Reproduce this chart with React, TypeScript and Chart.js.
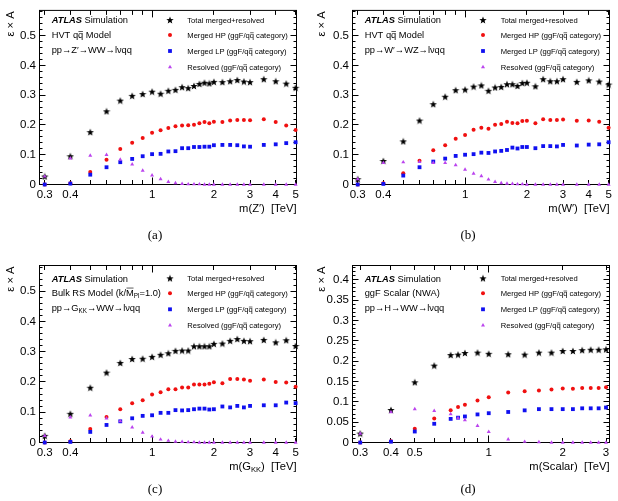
import { useEffect, useRef } from "react";
import { Chart, registerables } from "chart.js";

Chart.register(...registerables);

// Resonance mass points [TeV]
const massVV = [0.3, 0.4, 0.5, 0.6, 0.7, 0.8, 0.9, 1.0, 1.1, 1.2, 1.3, 1.4, 1.5, 1.6, 1.7, 1.8, 1.9, 2.0, 2.2, 2.4, 2.6, 2.8, 3.0, 3.5, 4.0, 4.5, 5.0];
const massScalar = [0.3, 0.4, 0.5, 0.6, 0.7, 0.75, 0.8, 0.9, 1.0, 1.2, 1.4, 1.6, 1.8, 2.0, 2.2, 2.4, 2.6, 2.8, 3.0];

// (a) HVT Z' -> WW
const zTotal = [0.027, 0.095, 0.176, 0.246, 0.282, 0.298, 0.304, 0.312, 0.305, 0.315, 0.318, 0.327, 0.324, 0.331, 0.338, 0.342, 0.340, 0.345, 0.344, 0.347, 0.351, 0.346, 0.344, 0.354, 0.347, 0.339, 0.325];
const zHP = [0.000, 0.004, 0.042, 0.083, 0.119, 0.140, 0.156, 0.174, 0.182, 0.190, 0.196, 0.198, 0.199, 0.201, 0.206, 0.210, 0.206, 0.211, 0.210, 0.215, 0.217, 0.217, 0.216, 0.219, 0.210, 0.198, 0.183];
const zLP = [0.000, 0.003, 0.033, 0.058, 0.075, 0.086, 0.095, 0.102, 0.103, 0.111, 0.112, 0.122, 0.122, 0.126, 0.126, 0.127, 0.127, 0.132, 0.133, 0.133, 0.132, 0.128, 0.127, 0.133, 0.135, 0.139, 0.142];
const zRes = [0.027, 0.088, 0.097, 0.100, 0.084, 0.068, 0.047, 0.031, 0.018, 0.009, 0.005, 0.002, 0.001, 0.001, 0.001, 0.000, 0.000, 0.000, 0.000, 0.000, 0.000, 0.000, 0.000, 0.000, 0.000, 0.000, 0.000];

// (b) HVT W' -> WZ
const wTotal = [0.018, 0.079, 0.145, 0.215, 0.270, 0.295, 0.317, 0.319, 0.329, 0.333, 0.315, 0.326, 0.328, 0.337, 0.337, 0.331, 0.341, 0.342, 0.330, 0.354, 0.347, 0.347, 0.354, 0.345, 0.350, 0.346, 0.336];
const wHP = [0.000, 0.004, 0.038, 0.080, 0.115, 0.132, 0.154, 0.166, 0.184, 0.191, 0.187, 0.201, 0.203, 0.211, 0.207, 0.206, 0.213, 0.214, 0.206, 0.219, 0.217, 0.217, 0.218, 0.214, 0.215, 0.211, 0.191];
const wLP = [0.000, 0.002, 0.030, 0.058, 0.077, 0.087, 0.096, 0.100, 0.102, 0.107, 0.106, 0.111, 0.113, 0.116, 0.124, 0.121, 0.126, 0.126, 0.122, 0.129, 0.129, 0.128, 0.133, 0.131, 0.134, 0.135, 0.142];
const wRes = [0.018, 0.073, 0.075, 0.076, 0.073, 0.073, 0.065, 0.050, 0.037, 0.028, 0.017, 0.009, 0.005, 0.003, 0.002, 0.001, 0.001, 0.000, 0.000, 0.000, 0.000, 0.000, 0.000, 0.000, 0.000, 0.000, 0.000];

// (c) Bulk RS G_KK -> WW
const gTotal = [0.022, 0.095, 0.181, 0.231, 0.263, 0.276, 0.277, 0.283, 0.290, 0.295, 0.303, 0.304, 0.304, 0.318, 0.318, 0.318, 0.318, 0.326, 0.327, 0.336, 0.342, 0.336, 0.335, 0.339, 0.331, 0.338, 0.319];
const gHP = [0.000, 0.004, 0.045, 0.084, 0.110, 0.130, 0.140, 0.159, 0.166, 0.176, 0.176, 0.182, 0.182, 0.192, 0.192, 0.192, 0.194, 0.199, 0.196, 0.210, 0.210, 0.208, 0.204, 0.208, 0.200, 0.198, 0.184];
const gLP = [0.000, 0.002, 0.035, 0.058, 0.070, 0.080, 0.088, 0.090, 0.098, 0.098, 0.107, 0.106, 0.107, 0.110, 0.112, 0.112, 0.109, 0.110, 0.119, 0.116, 0.121, 0.116, 0.121, 0.123, 0.123, 0.132, 0.130];
const gRes = [0.022, 0.083, 0.090, 0.080, 0.071, 0.050, 0.033, 0.020, 0.010, 0.006, 0.003, 0.002, 0.001, 0.001, 0.000, 0.000, 0.000, 0.000, 0.000, 0.000, 0.000, 0.000, 0.000, 0.000, 0.000, 0.000, 0.000];

// (d) ggF scalar H -> WW (NWA)
const sTotal = [0.022, 0.080, 0.148, 0.189, 0.215, 0.216, 0.220, 0.221, 0.218, 0.217, 0.216, 0.221, 0.221, 0.225, 0.225, 0.227, 0.228, 0.228, 0.229];
const sHP = [0.000, 0.003, 0.034, 0.059, 0.079, 0.087, 0.093, 0.103, 0.111, 0.123, 0.126, 0.128, 0.130, 0.133, 0.132, 0.134, 0.134, 0.134, 0.136];
const sLP = [0.000, 0.002, 0.027, 0.046, 0.058, 0.061, 0.064, 0.069, 0.072, 0.075, 0.079, 0.082, 0.082, 0.082, 0.082, 0.084, 0.084, 0.084, 0.086];
const sRes = [0.022, 0.075, 0.082, 0.078, 0.070, 0.060, 0.055, 0.041, 0.026, 0.008, 0.002, 0.001, 0.000, 0.000, 0.000, 0.000, 0.000, 0.000, 0.000];

// Axis ticks
const xTicksVV = [0.3, 0.4, 0.5, 0.6, 0.7, 0.8, 0.9, 1, 2, 3, 4, 5];
const xLabelsVV = [0.3, 0.4, 1, 2, 3, 4, 5];
const xTicksScalar = [0.3, 0.4, 0.5, 0.6, 0.7, 0.8, 0.9, 1, 2, 3];
const xLabelsScalar = [0.3, 0.4, 0.5, 1, 2, 3];

const FONT = '"Liberation Sans", Arial, Helvetica, sans-serif';
const SERIF = '"Liberation Serif", "DejaVu Serif", serif';
const RED = "#f01010";
const BLUE = "#1010f0";
const VIOLET = "#bb44ee";

type Seg = { t: string; b?: boolean; i?: boolean; bar?: "lo" | "hi"; sub?: boolean };

const legendRows: Seg[][] = [
  [{ t: "Total merged+resolved" }],
  [{ t: "Merged HP (ggF/q" }, { t: "q", bar: "lo" }, { t: " category)" }],
  [{ t: "Merged LP (ggF/q" }, { t: "q", bar: "lo" }, { t: " category)" }],
  [{ t: "Resolved (ggF/q" }, { t: "q", bar: "lo" }, { t: " category)" }],
];

const atlasLine: Seg[] = [{ t: "ATLAS", b: true, i: true }, { t: " Simulation" }];

type Panel = {
  origin: [number, number];
  size: [number, number];
  area: { l: number; t: number; r: number; b: number };
  mass: number[];
  total: number[];
  hp: number[];
  lp: number[];
  res: number[];
  xMin: number;
  xMax: number;
  yMax: number;
  yStep: number;
  yMinor: number;
  xTicks: number[];
  xLabels: number[];
  info: Seg[][];
  xTitle: Seg[];
  caption: string;
  infoX: number;
  infoY: number[];
  legMarkX: number;
  legTextX: number;
  legY: number[];
  xTitleY: number;
  yTitleX: number;
  captionX: number;
  captionY: number;
};

const panels: Panel[] = [
  {
    origin: [0, 0], size: [309, 250],
    area: { l: 39.5, t: 7.5, r: 12.5, b: 65.5 },
    mass: massVV, total: zTotal, hp: zHP, lp: zLP, res: zRes,
    xMin: 0.283, xMax: 5.05, yMax: 0.585, yStep: 0.1, yMinor: 0.02,
    xTicks: xTicksVV, xLabels: xLabelsVV,
    info: [atlasLine, [{ t: "HVT q" }, { t: "q", bar: "lo" }, { t: " Model" }], [{ t: "pp→Z′→WW→lνqq" }]],
    xTitle: [{ t: "m(Z′)  [TeV]" }],
    caption: "(a)",
    infoX: 51.7, infoY: [20, 34.3, 49.3],
    legMarkX: 170, legTextX: 187.3, legY: [20, 35, 51, 67],
    xTitleY: 208.3, yTitleX: 10, captionX: 155, captionY: 236,
  },
  {
    origin: [309, 0], size: [309, 250],
    area: { l: 43.5, t: 7.5, r: 8.5, b: 65.5 },
    mass: massVV, total: wTotal, hp: wHP, lp: wLP, res: wRes,
    xMin: 0.283, xMax: 5.05, yMax: 0.585, yStep: 0.1, yMinor: 0.02,
    xTicks: xTicksVV, xLabels: xLabelsVV,
    info: [atlasLine, [{ t: "HVT q" }, { t: "q", bar: "lo" }, { t: " Model" }], [{ t: "pp→W′→WZ→lνqq" }]],
    xTitle: [{ t: "m(W′)  [TeV]" }],
    caption: "(b)",
    infoX: 55.7, infoY: [20, 34.3, 49.3],
    legMarkX: 174, legTextX: 191.7, legY: [20, 35, 51, 67],
    xTitleY: 208.3, yTitleX: 11.7, captionX: 159, captionY: 236,
  },
  {
    origin: [0, 250], size: [309, 251],
    area: { l: 39.5, t: 15.5, r: 12.5, b: 58.5 },
    mass: massVV, total: gTotal, hp: gHP, lp: gLP, res: gRes,
    xMin: 0.283, xMax: 5.05, yMax: 0.585, yStep: 0.1, yMinor: 0.02,
    xTicks: xTicksVV, xLabels: xLabelsVV,
    info: [
      atlasLine,
      [{ t: "Bulk RS Model (k/" }, { t: "M", bar: "hi" }, { t: "Pl", sub: true }, { t: "=1.0)" }],
      [{ t: "pp→G" }, { t: "KK", sub: true }, { t: "→WW→lνqq" }],
    ],
    xTitle: [{ t: "m(G" }, { t: "KK", sub: true }, { t: ")  [TeV]" }],
    caption: "(c)",
    infoX: 51.7, infoY: [28.3, 42.7, 57.3],
    legMarkX: 170, legTextX: 187.3, legY: [28.3, 43.3, 59.3, 75.3],
    xTitleY: 216, yTitleX: 10, captionX: 155, captionY: 239.3,
  },
  {
    origin: [309, 250], size: [309, 251],
    area: { l: 43.5, t: 15.5, r: 8.5, b: 58.5 },
    mass: massScalar, total: sTotal, hp: sHP, lp: sLP, res: sRes,
    xMin: 0.279, xMax: 3.1, yMax: 0.435, yStep: 0.05, yMinor: 0.01,
    xTicks: xTicksScalar, xLabels: xLabelsScalar,
    info: [atlasLine, [{ t: "ggF Scalar (NWA)" }], [{ t: "pp→H→WW→lνqq" }]],
    xTitle: [{ t: "m(Scalar)  [TeV]" }],
    caption: "(d)",
    infoX: 55.7, infoY: [28.3, 42.7, 57.3],
    legMarkX: 174, legTextX: 191.7, legY: [28.3, 43.3, 59.3, 75.3],
    xTitleY: 216, yTitleX: 11.7, captionX: 159, captionY: 239.3,
  },
];

function segFont(s: Seg, size: number) {
  const sz = s.sub ? size * 0.68 : size;
  return `${s.i ? "italic " : ""}${s.b ? "bold " : ""}${sz}px ${FONT}`;
}

// Draws a run of styled text pieces; yc is the vertical centre of capital letters.
function drawSegs(ctx: CanvasRenderingContext2D, segs: Seg[], x: number, yc: number, size: number, align: "left" | "right" | "center") {
  ctx.save();
  ctx.textBaseline = "alphabetic";
  ctx.textAlign = "left";
  ctx.fillStyle = "#000";
  ctx.strokeStyle = "#000";
  const base = yc + 0.36 * size;
  const widths = segs.map((s) => {
    ctx.font = segFont(s, size);
    return ctx.measureText(s.t).width;
  });
  const total = widths.reduce((a, b) => a + b, 0);
  let cx = align === "right" ? x - total : align === "center" ? x - total / 2 : x;
  segs.forEach((s, k) => {
    ctx.font = segFont(s, size);
    const y = s.sub ? base + 0.22 * size : base;
    ctx.fillText(s.t, cx, y);
    if (s.bar) {
      const by = base - (s.bar === "hi" ? 0.86 : 0.66) * size;
      ctx.lineWidth = Math.max(0.6, size * 0.07);
      ctx.beginPath();
      ctx.moveTo(cx + 0.4, by);
      ctx.lineTo(cx + widths[k] - 0.3, by);
      ctx.stroke();
    }
    cx += widths[k];
  });
  ctx.restore();
}

function makeStar(size: number, color: string) {
  const c = document.createElement("canvas");
  c.width = size;
  c.height = size;
  const g = c.getContext("2d")!;
  const cx = size / 2;
  const cy = size / 2 + 0.35;
  const R = size / 2 - 0.1;
  const r = R * 0.42;
  g.beginPath();
  for (let k = 0; k < 10; k++) {
    const rad = k % 2 === 0 ? R : r;
    const a = -Math.PI / 2 + (k * Math.PI) / 5;
    const px = cx + rad * Math.cos(a);
    const py = cy + rad * Math.sin(a);
    if (k === 0) g.moveTo(px, py);
    else g.lineTo(px, py);
  }
  g.closePath();
  g.fillStyle = color;
  g.fill();
  return c;
}

function fmtY(v: number) {
  return String(parseFloat(v.toFixed(3)));
}

function PanelChart({ p }: { p: Panel }) {
  const ref = useRef<HTMLCanvasElement | null>(null);

  useEffect(() => {
    const canvas = ref.current;
    if (!canvas) return;
    const star = makeStar(8, "#000");
    const pts = (ys: number[]) => p.mass.map((x, k) => ({ x, y: ys[k] }));

    const framePlugin = {
      id: "rootFrame",
      beforeDatasetsDraw(chart: any) {
        const { ctx, chartArea: a, scales } = chart;
        const xs = scales.x;
        const ys = scales.y;
        ctx.save();
        ctx.strokeStyle = "#000";
        ctx.lineWidth = 1;
        ctx.strokeRect(a.left, a.top, a.right - a.left, a.bottom - a.top);
        ctx.beginPath();
        const ratio = Math.round(p.yStep / p.yMinor);
        for (let k = 0; k * p.yMinor <= p.yMax + 1e-9; k++) {
          const py = Math.round(ys.getPixelForValue(k * p.yMinor) - 0.5) + 0.5;
          const len = k % ratio === 0 ? 6 : 3;
          ctx.moveTo(a.left, py);
          ctx.lineTo(a.left + len, py);
          ctx.moveTo(a.right, py);
          ctx.lineTo(a.right - len, py);
        }
        for (const v of p.xTicks) {
          const px = Math.round(xs.getPixelForValue(v) - 0.5) + 0.5;
          const len = v === 1 ? 7 : 4.5;
          ctx.moveTo(px, a.bottom);
          ctx.lineTo(px, a.bottom - len);
          ctx.moveTo(px, a.top);
          ctx.lineTo(px, a.top + len);
        }
        ctx.stroke();
        ctx.restore();
      },
      afterDraw(chart: any) {
        const { ctx, chartArea: a } = chart;
        // info block
        p.info.forEach((line, k) => drawSegs(ctx, line, p.infoX, p.infoY[k], 9.3, "left"));
        // legend
        const colors = ["#000", RED, BLUE, VIOLET];
        legendRows.forEach((row, k) => {
          const mx = p.legMarkX;
          const my = p.legY[k];
          ctx.save();
          ctx.fillStyle = colors[k];
          if (k === 0) {
            ctx.drawImage(star, mx - 4, my - 4);
          } else if (k === 1) {
            ctx.beginPath();
            ctx.arc(mx, my, 2, 0, Math.PI * 2);
            ctx.fill();
          } else if (k === 2) {
            ctx.fillRect(mx - 1.9, my - 1.9, 3.8, 3.8);
          } else {
            ctx.beginPath();
            ctx.moveTo(mx, my - 2.3);
            ctx.lineTo(mx + 2, my + 1.2);
            ctx.lineTo(mx - 2, my + 1.2);
            ctx.closePath();
            ctx.fill();
          }
          ctx.restore();
          drawSegs(ctx, row, p.legTextX, my, 7.6, "left");
        });
        // axis titles
        drawSegs(ctx, p.xTitle, a.right, p.xTitleY, 11.2, "right");
        ctx.save();
        ctx.translate(p.yTitleX, a.top + 1);
        ctx.rotate(-Math.PI / 2);
        drawSegs(ctx, [{ t: "ε × A" }], 0, 0, 11.2, "right");
        ctx.restore();
        // sub-figure caption
        ctx.save();
        ctx.font = `13px ${SERIF}`;
        ctx.fillStyle = "#000";
        ctx.textAlign = "center";
        ctx.textBaseline = "middle";
        ctx.fillText(p.caption, p.captionX, p.captionY);
        ctx.restore();
      },
    };

    const tickFont = { family: FONT, size: 11.5 };
    const chart = new Chart(canvas, {
      type: "scatter",
      data: {
        datasets: [
          { label: "Total merged+resolved", data: pts(p.total), pointStyle: star as any, pointRadius: 4, backgroundColor: "#000", borderColor: "#000", order: 4, clip: false } as any,
          { label: "Merged HP", data: pts(p.hp), pointStyle: "circle", pointRadius: 2, pointBorderWidth: 0, backgroundColor: RED, borderColor: RED, order: 3, clip: false } as any,
          { label: "Merged LP", data: pts(p.lp), pointStyle: "rect", pointRadius: 2.7, pointBorderWidth: 0, backgroundColor: BLUE, borderColor: BLUE, order: 2, clip: false } as any,
          { label: "Resolved", data: pts(p.res), pointStyle: "triangle", pointRadius: 2.3, pointBorderWidth: 0, backgroundColor: VIOLET, borderColor: VIOLET, order: 1, clip: false } as any,
        ],
      },
      options: {
        animation: false,
        responsive: false,
        maintainAspectRatio: false,
        devicePixelRatio: 1,
        events: [],
        layout: { padding: { left: 0, top: p.area.t, right: p.area.r, bottom: 0 } },
        plugins: { legend: { display: false }, tooltip: { enabled: false }, title: { display: false } },
        scales: {
          x: {
            type: "logarithmic",
            min: p.xMin,
            max: p.xMax,
            afterBuildTicks: (s: any) => {
              s.ticks = p.xTicks.map((v) => ({ value: v }));
            },
            afterFit: (s: any) => {
              s.height = p.area.b;
            },
            grid: { display: false, drawTicks: false },
            border: { display: false },
            ticks: {
              autoSkip: false,
              maxRotation: 0,
              minRotation: 0,
              padding: 3,
              color: "#000",
              font: tickFont,
              callback: (v: any) => (p.xLabels.includes(Number(v)) ? String(v) : ""),
            },
          },
          y: {
            type: "linear",
            min: 0,
            max: p.yMax,
            afterFit: (s: any) => {
              s.width = p.area.l;
            },
            grid: { display: false, drawTicks: false },
            border: { display: false },
            ticks: {
              stepSize: p.yStep,
              includeBounds: false,
              padding: 3.5,
              color: "#000",
              font: tickFont,
              callback: (v: any) => fmtY(Number(v)),
            },
          },
        },
      } as any,
      plugins: [framePlugin],
    });
    return () => chart.destroy();
  }, [p]);

  return (
    <canvas
      ref={ref}
      width={p.size[0]}
      height={p.size[1]}
      style={{ position: "absolute", left: p.origin[0], top: p.origin[1], width: p.size[0], height: p.size[1] }}
    />
  );
}

export default function App() {
  return (
    <div style={{ position: "fixed", left: 0, top: 0, width: 618, height: 501, background: "#fff", overflow: "hidden" }}>
      {panels.map((p, k) => (
        <PanelChart key={k} p={p} />
      ))}
    </div>
  );
}
